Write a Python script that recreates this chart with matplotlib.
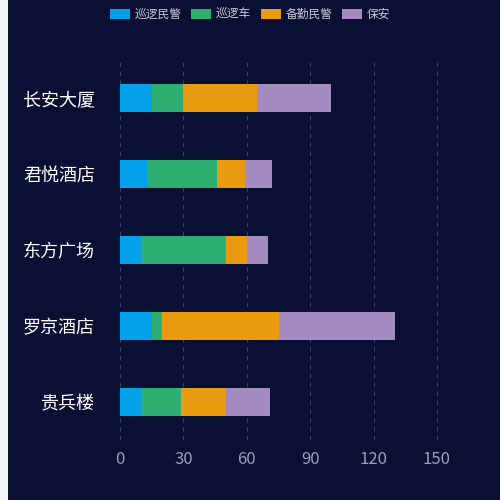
import matplotlib
matplotlib.use("Agg")
import matplotlib.pyplot as plt
plt.rcParams['font.family'] = ['Noto Sans CJK SC', 'DejaVu Sans']

categories = ['长安大厦', '君悦酒店', '东方广场', '罗京酒店', '贵兵楼']
series_names = ['巡逻民警', '巡逻车', '备勤民警', '保安']
values = [
    [15, 13, 10, 15, 10],
    [15, 33, 40, 5, 19],
    [35, 13, 10, 55, 21],
    [35, 13, 10, 55, 21],
]
colors = ['#03a0ea', '#2fae72', '#ea9a0e', '#a38bc1']
bg = '#0a1033'

fig = plt.figure(figsize=(5, 5), dpi=100, facecolor=bg)
strip = fig.add_axes([0, 0, 8/500, 1])
strip.set_facecolor('#f2f3f7')
strip.set_xticks([]); strip.set_yticks([])
for s in strip.spines.values():
    s.set_visible(False)

ax = fig.add_axes([120/500, 1-440/500, (437-120)/500*180/150, (440-60)/500])
ax.set_facecolor(bg)
ax.patch.set_alpha(0)
y = list(range(len(categories)))[::-1]
left = [0]*len(categories)
for name, vals, c in zip(series_names, values, colors):
    ax.barh(y, vals, left=left, height=0.38, color=c, label=name, zorder=3)
    left = [a+b for a, b in zip(left, vals)]
ax.set_xlim(0, 180)
ax.set_ylim(-0.5, 4.5)
ax.set_xticks([0, 30, 60, 90, 120, 150])
ax.set_yticks(y)
ax.set_yticklabels(categories, color='white', fontsize=13)
ax.tick_params(axis='x', colors='#9aa0b8', labelsize=12, length=0, pad=8)
ax.tick_params(axis='y', length=0, pad=18)
for s in ax.spines.values():
    s.set_visible(False)
ax.grid(axis='x', color='#3a4060', linestyle=(0, (4, 4)), linewidth=0.8, zorder=0)
leg = fig.legend(*ax.get_legend_handles_labels(), loc='upper center', bbox_to_anchor=(0.5, 1.005), ncol=4, frameon=False,
                 fontsize=8.5, labelcolor='#c8c8d0', handlelength=1.7, handleheight=1.0,
                 columnspacing=0.8, handletextpad=0.4)
fig.savefig('out.png', dpi=100, facecolor=bg)
